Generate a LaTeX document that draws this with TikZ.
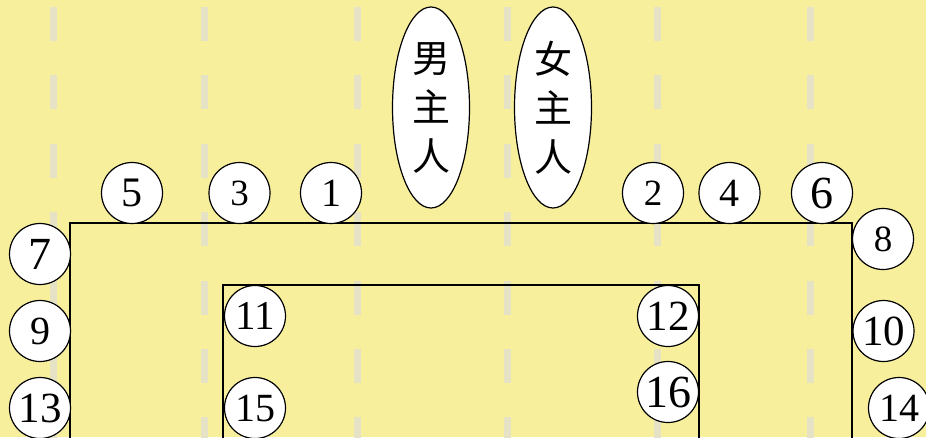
\documentclass[tikz,border=0pt]{standalone}
\usepackage{fontspec}
\setmainfont{Liberation Serif}
\newfontfamily\cjk{Noto Sans CJK SC}
\usetikzlibrary{shapes.geometric}
\definecolor{bgyellow}{HTML}{F8EF9D}
\definecolor{dashgray}{HTML}{E6E2C6}
\tikzset{
  seat/.style={circle, draw=black, line width=1.2pt, fill=white, minimum size=61pt, inner sep=0pt},
  host/.style={ellipse, draw=black, line width=1.2pt, fill=white, minimum width=77pt, minimum height=201pt, inner sep=0pt, align=center, font=\cjk\fontsize{38}{49}\selectfont},
  guide/.style={draw=dashgray, line width=7pt, dash pattern=on 34pt off 34.4pt},
  table/.style={draw=black, line width=1.2pt}
}
\newcommand{\fs}[1]{\fontsize{#1}{#1}\selectfont}
\begin{document}
\begin{tikzpicture}[x=1pt,y=-1pt]
\fill[bgyellow] (0,0) rectangle (926,437);
\useasboundingbox (0,0) rectangle (926,437);
\clip (0,0) rectangle (926,437);
\foreach \gx [count=\gi] in {53.5,204.5,357,507,657,810}{
  \coordinate (gt\gi) at (\gx,7);
  \coordinate (gb\gi) at (\gx,445);
  \draw[guide] (gt\gi) -- (gb\gi);
}
\coordinate (o1) at (70,450);
\coordinate (o2) at (70,223);
\coordinate (o3) at (852,223);
\coordinate (o4) at (852,450);
\draw[table] (o1) -- (o2) -- (o3) -- (o4);
\coordinate (i1) at (223,450);
\coordinate (i2) at (223,285);
\coordinate (i3) at (699,285);
\coordinate (i4) at (699,450);
\draw[table] (i1) -- (i2) -- (i3) -- (i4);
\node[host] (man) at (431,107.5) {男\\主\\人};
\node[host] (woman) at (553,107.5) {女\\主\\人};
\node[seat, font=\fs{42}] (s5) at (132,193) {5};
\node[seat, font=\fs{37}] (s3) at (239.5,193) {3};
\node[seat, font=\fs{40}] (s1) at (331,193) {1};
\node[seat, font=\fs{37}] (s2) at (653,193) {2};
\node[seat, font=\fs{40}] (s4) at (729.5,193) {4};
\node[seat, font=\fs{46}] (s6) at (822,193) {6};
\node[seat, font=\fs{37}] (s8) at (883,239) {8};
\node[seat, font=\fs{46}] (s7) at (40,254) {7};
\node[seat, font=\fs{40}] (s9) at (40,331) {9};
\node[seat, font=\fs{43}] (s13) at (40,408) {13};
\node[seat, font=\fs{41}] (s11) at (255,316) {11};
\node[seat, font=\fs{40}] (s15) at (255,408) {15};
\node[seat, font=\fs{43}] (s12) at (668,316) {12};
\node[seat, font=\fs{46}] (s16) at (668,392) {16};
\node[seat, font=\fs{43}] (s10) at (883.5,331) {10};
\node[seat, font=\fs{40}] (s14) at (899,408) {14};
\end{tikzpicture}
\end{document}
